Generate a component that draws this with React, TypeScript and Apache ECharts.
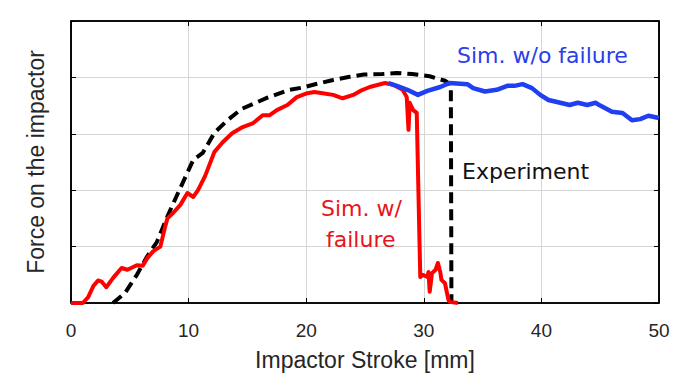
import React, { useEffect, useRef } from "react";
import * as echarts from "echarts";

// x tick values (mm); y axis has unlabeled gridlines
const xTicks = [0, 10, 20, 30, 40, 50];
const yGridCount = 5;

// Sim. w/ failure (red)
const simWithFailure: [number, number][] = [
  [0, 0], [1.0, 0], [1.45, 0.1], [1.9, 0.3], [2.3, 0.4], [2.6, 0.38], [3.0, 0.28],
  [3.6, 0.45], [4.3, 0.62], [4.8, 0.59], [5.6, 0.67], [6.1, 0.66], [6.5, 0.8],
  [7.0, 0.92], [7.6, 1.0], [8.0, 1.35], [8.2, 1.5], [8.7, 1.6], [9.3, 1.74],
  [9.9, 1.95], [10.4, 1.88], [10.8, 2.0], [11.4, 2.25], [12.2, 2.68], [12.9, 2.85],
  [13.7, 3.01], [14.6, 3.12], [15.5, 3.19], [16.3, 3.33], [16.9, 3.33], [17.5, 3.42],
  [18.4, 3.51], [19.2, 3.65], [20.1, 3.72], [20.7, 3.74], [21.4, 3.72], [22.3, 3.69],
  [23.1, 3.63], [24.0, 3.69], [24.6, 3.76], [25.4, 3.83], [26.7, 3.9], [27.4, 3.87],
  [28.2, 3.78], [28.55, 3.65], [28.7, 3.07], [28.8, 3.55], [29.1, 3.42], [29.4, 3.37],
  [29.7, 0.46], [29.9, 0.5], [30.3, 0.46], [30.4, 0.55], [30.5, 0.2], [30.7, 0.53],
  [31.0, 0.59], [31.2, 0.71], [31.4, 0.55], [31.5, 0.41], [31.8, 0.35], [32.1, 0.05],
  [32.2, 0.02], [32.9, 0],
];

// Sim. w/o failure (blue)
const simWithoutFailure: [number, number][] = [
  [27.0, 3.9], [27.7, 3.85], [28.6, 3.78], [29.5, 3.69], [30.3, 3.76], [31.4, 3.83],
  [32.2, 3.9], [33.7, 3.88], [34.2, 3.81], [35.2, 3.75], [36.2, 3.78], [37.1, 3.85],
  [37.7, 3.85], [38.4, 3.88], [39.2, 3.81], [39.9, 3.69], [40.6, 3.6], [41.6, 3.55],
  [42.4, 3.51], [43.1, 3.55], [43.9, 3.51], [44.6, 3.55], [45.0, 3.5], [46.0, 3.39],
  [46.9, 3.37], [47.7, 3.24], [48.4, 3.26], [49.1, 3.32], [50, 3.28],
];

// Experiment (black dashed)
const experiment: [number, number][] = [
  [3.57, 0], [4.6, 0.18], [5.6, 0.5], [6.46, 0.82], [7.3, 1.08], [8.25, 1.56],
  [9.1, 1.95], [10.4, 2.54], [11.2, 2.66], [12.2, 3.02], [13.3, 3.24], [14.5, 3.44],
  [16.7, 3.64], [18.6, 3.78], [19.7, 3.82], [20.6, 3.87], [22.2, 3.95], [23.7, 4.01],
  [24.9, 4.05], [26.5, 4.06], [27.7, 4.08], [29.0, 4.06], [30.5, 4.02], [31.8, 3.94],
  [32.3, 3.87], [32.35, 0],
];

const xName = "Impactor Stroke [mm]";
const yName = "Force on the impactor";

export default function App() {
  const ref = useRef<HTMLDivElement>(null);
  useEffect(() => {
    if (!ref.current) return;
    const chart = echarts.init(ref.current, null, { renderer: "svg" });
    const axisFont = "'Liberation Sans', Arial, sans-serif";
    const annoFont = "'DejaVu Sans', sans-serif";
    const frame = () => ({ show: true, onZero: false, lineStyle: { color: "#000", width: 1.6 } });
    const tick = () => ({ show: true, inside: true, length: 5, lineStyle: { color: "#000", width: 1 } });
    const gridLine = () => ({ show: true, lineStyle: { color: "#d6d6d6", width: 1 } });
    const xMin = xTicks[0];
    const xMax = xTicks[xTicks.length - 1];
    // box around the plot area, built from the axis extents
    const boxPath: [number, number][] = [
      [xMin, 0], [xMax, 0], [xMax, yGridCount], [xMin, yGridCount], [xMin, 0],
    ];
    chart.setOption({
      animation: false,
      backgroundColor: "#fff",
      grid: { left: 71, right: 41, top: 21, bottom: 76 },
      xAxis: [
        {
          type: "value",
          min: xMin,
          max: xMax,
          interval: 10,
          position: "bottom",
          axisLine: frame(),
          axisTick: tick(),
          axisLabel: { fontSize: 19, color: "#262626", fontFamily: axisFont, margin: 18 },
          splitLine: gridLine(),
          name: xName,
          nameLocation: "middle",
          nameGap: 45,
          nameTextStyle: { fontSize: 23, color: "#262626", fontFamily: axisFont },
        },
        {
          type: "value",
          min: xMin,
          max: xMax,
          interval: 10,
          position: "top",
          axisLine: frame(),
          axisTick: tick(),
          axisLabel: { show: false },
          splitLine: { show: false },
        },
      ],
      yAxis: [
        {
          type: "value",
          min: 0,
          max: yGridCount,
          interval: 1,
          position: "left",
          axisLine: frame(),
          axisTick: tick(),
          axisLabel: { show: false },
          splitLine: gridLine(),
          name: yName,
          nameLocation: "middle",
          nameGap: 24,
          nameTextStyle: { fontSize: 23, color: "#262626", fontFamily: axisFont },
        },
        {
          type: "value",
          min: 0,
          max: yGridCount,
          interval: 1,
          position: "right",
          axisLine: frame(),
          axisTick: tick(),
          axisLabel: { show: false },
          splitLine: { show: false },
        },
      ],
      series: [
        {
          name: "frame",
          type: "line",
          data: boxPath,
          showSymbol: false,
          silent: true,
          clip: false,
          lineStyle: { color: "#000", width: 1.6 },
          z: 1,
        },
        {
          name: "Experiment",
          type: "line",
          data: experiment,
          showSymbol: false,
          lineStyle: { color: "#000", width: 4, type: [11, 6], cap: "butt" },
          z: 2,
        },
        {
          name: "Sim. w/ failure",
          type: "line",
          data: simWithFailure,
          showSymbol: false,
          lineStyle: { color: "#ff0000", width: 4, join: "round" },
          z: 3,
        },
        {
          name: "Sim. w/o failure",
          type: "line",
          data: simWithoutFailure,
          showSymbol: false,
          lineStyle: { color: "#1f3ff0", width: 4.5, join: "round" },
          z: 4,
        },
      ],
      graphic: [
        {
          type: "text",
          left: 457,
          top: 44,
          z: 10,
          style: { text: "Sim. w/o failure", fill: "#2a40e8", font: `22px ${annoFont}` },
        },
        {
          type: "text",
          left: 462,
          top: 160,
          z: 10,
          style: { text: "Experiment", fill: "#111", font: `22px ${annoFont}` },
        },
        {
          type: "text",
          left: 321,
          top: 197,
          z: 10,
          style: { text: "Sim. w/", fill: "#e8141c", font: `22px ${annoFont}` },
        },
        {
          type: "text",
          left: 326,
          top: 228,
          z: 10,
          style: { text: "failure", fill: "#e8141c", font: `22px ${annoFont}` },
        },
      ],
    });
    return () => chart.dispose();
  }, []);
  return (
    <div
      ref={ref}
      style={{ position: "fixed", left: 0, top: 0, width: 700, height: 379, background: "#fff" }}
    />
  );
}
